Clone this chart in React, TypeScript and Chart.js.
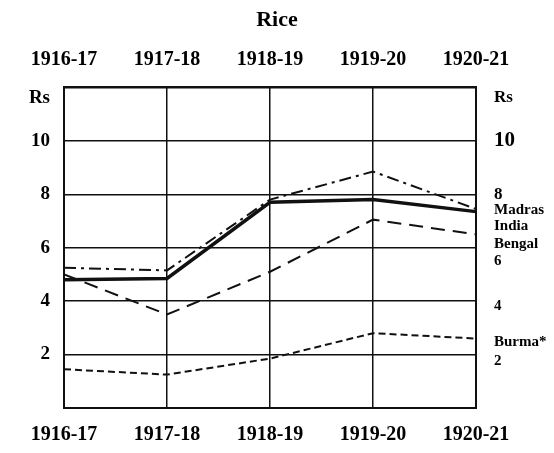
import React, { useEffect, useRef } from 'react';
import { Chart, registerables } from 'chart.js';

Chart.register(...registerables);

const years = ['1916-17', '1917-18', '1918-19', '1919-20', '1920-21'];
const madras = [5.25, 5.15, 7.8, 8.85, 7.45];
const india = [4.8, 4.85, 7.7, 7.8, 7.35];
const bengal = [5.0, 3.5, 5.1, 7.05, 6.5];
const burma = [1.45, 1.25, 1.85, 2.8, 2.6];

const leftTickValues = [0, 2, 4, 6, 8, 10, 11.6, 12];
const leftTickLabels = ['', '2', '4', '6', '8', '10', 'Rs', ''];
const rightTickValues = [11.6, 10, 8, 7.4, 6.8, 6.15, 5.5, 3.8, 2.45, 1.75];
const rightTickLabels = ['Rs', '10', '8', 'Madras', 'India', 'Bengal', '6', '4', 'Burma*', '2'];

const FONT = "'Liberation Serif', 'Times New Roman', serif";
const INK = '#111';

export default function App() {
  const ref = useRef<HTMLCanvasElement | null>(null);

  useEffect(() => {
    document.body.style.margin = '0';
    const canvas = ref.current;
    if (!canvas) return;
    const chart = new Chart(canvas, {
      type: 'line',
      data: {
        labels: years,
        datasets: [
          {
            label: 'Madras',
            data: madras,
            borderColor: INK,
            borderWidth: 2,
            borderDash: [12, 5, 3, 5],
            pointRadius: 0,
            tension: 0,
            xAxisID: 'x',
            yAxisID: 'y',
          },
          {
            label: 'India',
            data: india,
            borderColor: INK,
            borderWidth: 3.5,
            pointRadius: 0,
            tension: 0,
            xAxisID: 'x',
            yAxisID: 'y',
          },
          {
            label: 'Bengal',
            data: bengal,
            borderColor: INK,
            borderWidth: 2,
            borderDash: [14, 8],
            pointRadius: 0,
            tension: 0,
            xAxisID: 'x',
            yAxisID: 'y',
          },
          {
            label: 'Burma*',
            data: burma,
            borderColor: INK,
            borderWidth: 2,
            borderDash: [7, 4],
            pointRadius: 0,
            tension: 0,
            xAxisID: 'x',
            yAxisID: 'y',
          },
        ],
      },
      options: {
        animation: false,
        responsive: false,
        devicePixelRatio: 1,
        layout: { padding: { top: 7, left: 0, right: 0, bottom: 0 } },
        plugins: {
          legend: { display: false },
          tooltip: { enabled: false },
          title: {
            display: true,
            text: 'Rice',
            color: '#000',
            font: { family: FONT, size: 22, weight: 'bold' },
            padding: { top: 0, bottom: 0 },
          },
        },
        scales: {
          x: {
            type: 'category',
            position: 'bottom',
            offset: false,
            grid: { display: true, color: INK, lineWidth: 1.5, drawTicks: false },
            border: { display: true, color: INK, width: 2 },
            ticks: {
              autoSkip: false,
              maxRotation: 0,
              minRotation: 0,
              padding: 15,
              color: '#000',
              font: { family: FONT, size: 20, weight: 'bold' },
            },
            afterFit: (s: any) => {
              s.height = 45;
            },
          },
          x2: {
            type: 'category',
            position: 'top',
            labels: years,
            offset: false,
            grid: { display: false, drawTicks: false },
            border: { display: true, color: INK, width: 2 },
            ticks: {
              autoSkip: false,
              maxRotation: 0,
              minRotation: 0,
              padding: 16,
              color: '#000',
              font: { family: FONT, size: 20, weight: 'bold' },
            },
            afterFit: (s: any) => {
              s.height = 54;
            },
          },
          y: {
            type: 'linear',
            position: 'left',
            min: 0,
            max: 12,
            grid: {
              color: (ctx: any) =>
                ctx.tick && ctx.tick.value % 2 !== 0 ? 'rgba(0,0,0,0)' : INK,
              lineWidth: 1.5,
              drawTicks: false,
            },
            border: { display: true, color: INK, width: 2 },
            afterBuildTicks: (s: any) => {
              s.ticks = leftTickValues.map((v) => ({ value: v }));
            },
            ticks: {
              autoSkip: false,
              padding: 14,
              color: '#000',
              font: { family: FONT, size: 19, weight: 'bold' },
              callback: (_v: any, i: number) => leftTickLabels[i],
            },
            afterFit: (s: any) => {
              s.width = 64;
            },
          },
          y2: {
            type: 'linear',
            position: 'right',
            min: 0,
            max: 12,
            grid: { display: false, drawTicks: false },
            border: { display: true, color: INK, width: 2 },
            afterBuildTicks: (s: any) => {
              s.ticks = rightTickValues.map((v) => ({ value: v }));
            },
            ticks: {
              autoSkip: false,
              padding: 18,
              color: '#000',
              font: (ctx: any) => {
                const lbl = rightTickLabels[ctx.index];
                const size = lbl === '10' ? 21 : lbl === '8' || lbl === 'Rs' ? 17 : 15;
                return { family: FONT, size, weight: 'bold' };
              },
              callback: (_v: any, i: number) => rightTickLabels[i],
            },
            afterFit: (s: any) => {
              s.width = 78;
            },
          },
        },
      },
    });
    return () => chart.destroy();
  }, []);

  return (
    <div style={{ width: 554, height: 453, background: '#fff' }}>
      <canvas ref={ref} width={554} height={453} style={{ display: 'block' }} />
    </div>
  );
}
